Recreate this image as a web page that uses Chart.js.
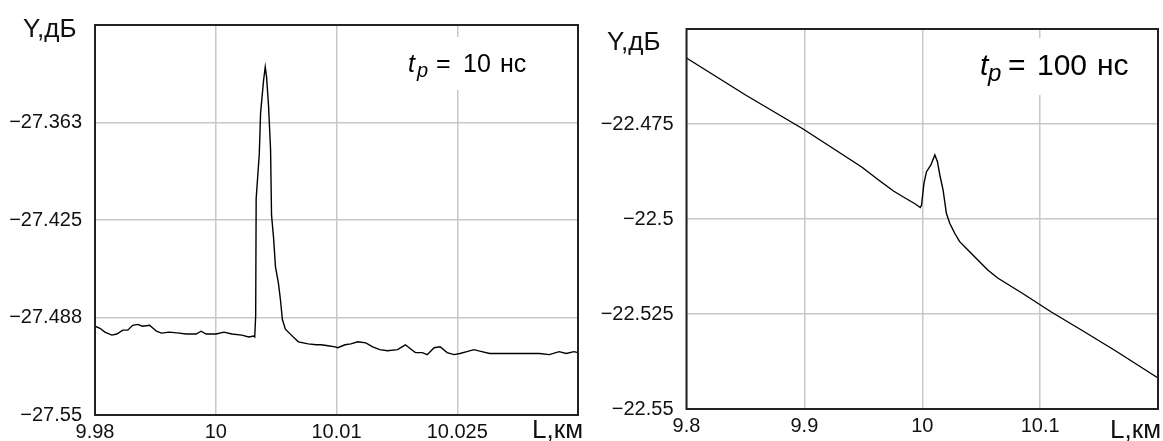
<!DOCTYPE html>
<html>
<head>
<meta charset="utf-8">
<script src="https://cdn.jsdelivr.net/npm/chart.js@4.4.1/dist/chart.umd.min.js"></script>
<style>
    body { margin: 0; background: #fff; }
    #left { position: absolute; left: 0; top: 0; }
    #right { position: absolute; left: 583px; top: 0; }
</style>
</head>
<body>
<canvas id="left" width="583" height="441"></canvas>
<canvas id="right" width="580" height="441"></canvas>
<script>
// t_p = 10 ns trace
const leftDistance = [
    9.98, 9.98062, 9.98123, 9.98209, 9.98271, 9.98345, 9.98407, 9.98468, 9.9853, 9.98591,
    9.98678, 9.98764, 9.98825, 9.98924, 9.99047, 9.99133, 9.99257, 9.99318, 9.9938, 9.99503,
    9.99602, 9.997, 9.99823, 9.9991, 9.99971, 9.99984, 9.99996, 10.00002, 10.00041, 10.00057,
    10.00094, 10.00115, 10.00131, 10.00156, 10.00181, 10.00193, 10.00218, 10.00242, 10.00279, 10.00304,
    10.00328, 10.00365, 10.00439, 10.00526, 10.00649, 10.00748, 10.00809, 10.00895, 10.00981, 10.01018,
    10.01105, 10.01179, 10.01265, 10.01364, 10.0145, 10.01536, 10.01634, 10.01758, 10.01856, 10.01918,
    10.0198, 10.02066, 10.02127, 10.02213, 10.02287, 10.02374, 10.0246, 10.02534, 10.0262, 10.02706,
    10.02805, 10.02903, 10.03027, 10.0315, 10.03273, 10.03396, 10.0352, 10.03643, 10.03766, 10.03852,
    10.03951, 10.04
];
const leftLevel = [
    -27.4931, -27.4944, -27.4969, -27.4988, -27.4981, -27.4956, -27.4956, -27.4925, -27.4919, -27.4931,
    -27.4925, -27.4963, -27.4975, -27.4969, -27.4975, -27.4981, -27.4981, -27.4963, -27.4981, -27.4981,
    -27.4969, -27.4981, -27.4988, -27.5, -27.4994, -27.5, -27.4863, -27.4113, -27.3825, -27.3563,
    -27.3356, -27.3269, -27.3331, -27.3519, -27.38, -27.4219, -27.4363, -27.455, -27.4656, -27.4763,
    -27.4888, -27.495, -27.4988, -27.5031, -27.5044, -27.505, -27.505, -27.5056, -27.5063, -27.5069,
    -27.505, -27.5044, -27.5031, -27.5038, -27.5063, -27.5081, -27.5088, -27.5081, -27.505, -27.5075,
    -27.51, -27.51, -27.5113, -27.5069, -27.5063, -27.51, -27.5113, -27.5106, -27.5094, -27.5081,
    -27.5094, -27.5106, -27.5106, -27.5106, -27.5106, -27.5106, -27.5106, -27.5113, -27.5094, -27.5106,
    -27.5094, -27.51
];

// t_p = 100 ns trace
const rightDistance = [
    9.8, 9.8501, 9.89895, 9.94863, 9.96295, 9.97558, 9.984, 9.99411, 9.99832, 9.99941,
    10.00143, 10.00362, 10.00733, 10.01069, 10.01288, 10.01491, 10.01768, 10.02046, 10.02333, 10.02754,
    10.03175, 10.03874, 10.04716, 10.05558, 10.064, 10.0859, 10.10947, 10.13642, 10.16421, 10.2
];
const rightLevel = [
    -22.45763, -22.46737, -22.47632, -22.48632, -22.48974, -22.49263, -22.49421, -22.49605, -22.49697, -22.49632,
    -22.49061, -22.48755, -22.48579, -22.48316, -22.48492, -22.48842, -22.49237, -22.4985, -22.50113, -22.50376,
    -22.50597, -22.50816, -22.51079, -22.51342, -22.51553, -22.51974, -22.52447, -22.52947, -22.53474, -22.54184
];

const leftXTicks = [9.98, 9.995, 10.01, 10.025, 10.04];
const leftXLabels = ['9.98', '10', '10.01', '10.025', ''];
const leftYTicks = [-27.55, -27.4875, -27.425, -27.3625, -27.3];
const leftYLabels = ['\u221227.55', '\u221227.488', '\u221227.425', '\u221227.363', ''];

const rightXTicks = [9.8, 9.9, 10, 10.1, 10.2];
const rightXLabels = ['9.8', '9.9', '10', '10.1', ''];
const rightYTicks = [-22.55, -22.525, -22.5, -22.475, -22.45];
const rightYLabels = ['\u221222.55', '\u221222.525', '\u221222.5', '\u221222.475', ''];

const textFamily = "'Liberation Sans', Arial, sans-serif";
const tickFont = { family: textFamily, size: 20 };

// frame, axis names and the t_p note
const framePlugin = {
    id: 'frame',
    afterDraw(chart, args, o) {
        const ctx = chart.ctx;
        const a = chart.chartArea;
        ctx.save();
        ctx.strokeStyle = '#222';
        ctx.lineWidth = 2;
        ctx.strokeRect(a.left, a.top, a.right - a.left, a.bottom - a.top);

        ctx.fillStyle = '#111';
        ctx.textBaseline = 'alphabetic';
        ctx.font = '26px ' + textFamily;
        ctx.textAlign = 'left';
        ctx.fillText('Y,дБ', o.yName[0], o.yName[1]);
        ctx.textAlign = 'right';
        ctx.fillText('L,км', o.xName[0], o.xName[1]);

        // note with white background
        const n = o.note;
        ctx.fillStyle = '#fff';
        ctx.fillRect(n.box[0], n.box[1], n.box[2], n.box[3]);
        ctx.fillStyle = '#000';
        ctx.textAlign = 'left';
        ctx.font = 'italic ' + n.size + 'px ' + textFamily;
        ctx.fillText('t', n.x + n.parts[0], n.y);
        ctx.font = 'italic ' + Math.round(n.size * 0.8) + 'px ' + textFamily;
        ctx.fillText('p', n.x + n.parts[1], n.y + n.size * 0.2);
        ctx.font = n.size + 'px ' + textFamily;
        ctx.fillText('=', n.x + n.parts[2], n.y);
        ctx.fillText(n.value, n.x + n.parts[3], n.y);
        ctx.fillText('нс', n.x + n.parts[4], n.y);
        ctx.restore();
    }
};

function buildChart(id, xs, ys, xTicks, xLabels, yTicks, yLabels, box, frame) {
    const points = xs.map((x, i) => ({ x: x, y: ys[i] }));
    const grid = { color: 'rgb(200, 200, 200)', lineWidth: 1.5, drawTicks: false };
    return new Chart(document.getElementById(id), {
        type: 'scatter',
        data: {
            datasets: [{
                data: points,
                showLine: true,
                borderColor: '#000',
                borderWidth: 1.4,
                pointRadius: 0,
                tension: 0
            }]
        },
        options: {
            responsive: false,
            animation: false,
            layout: { padding: { top: box.top, right: box.right, left: 0, bottom: 0 } },
            plugins: { legend: { display: false }, tooltip: { enabled: false }, frame: frame },
            scales: {
                x: {
                    type: 'linear',
                    min: xTicks[0],
                    max: xTicks[xTicks.length - 1],
                    grid: grid,
                    border: { display: false },
                    afterFit(scale) { scale.height = box.xHeight; },
                    afterBuildTicks(scale) { scale.ticks = xTicks.map(v => ({ value: v })); },
                    ticks: {
                        padding: 5,
                        color: '#111',
                        font: tickFont,
                        maxRotation: 0,
                        autoSkip: false,
                        callback: (v, i) => xLabels[i]
                    }
                },
                y: {
                    type: 'linear',
                    min: yTicks[0],
                    max: yTicks[yTicks.length - 1],
                    grid: grid,
                    border: { display: false },
                    afterFit(scale) { scale.width = box.yWidth; },
                    afterBuildTicks(scale) { scale.ticks = yTicks.map(v => ({ value: v })); },
                    ticks: {
                        padding: 13,
                        color: '#111',
                        font: tickFont,
                        autoSkip: false,
                        callback: (v, i) => yLabels[i]
                    }
                }
            }
        },
        plugins: [framePlugin]
    });
}

buildChart('left', leftDistance, leftLevel, leftXTicks, leftXLabels, leftYTicks, leftYLabels,
    { top: 15, right: 2, yWidth: 95, xHeight: 26 },
    { yName: [23, 37], xName: [583, 438],
      note: { x: 408, y: 72, size: 25, value: '10', parts: [0, 9, 28, 55, 92], box: [398, 37, 145, 53] } });

buildChart('right', rightDistance, rightLevel, rightXTicks, rightXLabels, rightYTicks, rightYLabels,
    { top: 29, right: 1.5, yWidth: 103.5, xHeight: 32 },
    { yName: [24, 50], xName: [578, 438],
      note: { x: 397, y: 75, size: 30, value: '100', parts: [0, 8, 28, 57, 117], box: [387, 38, 170, 57] } });
</script>
</body>
</html>
